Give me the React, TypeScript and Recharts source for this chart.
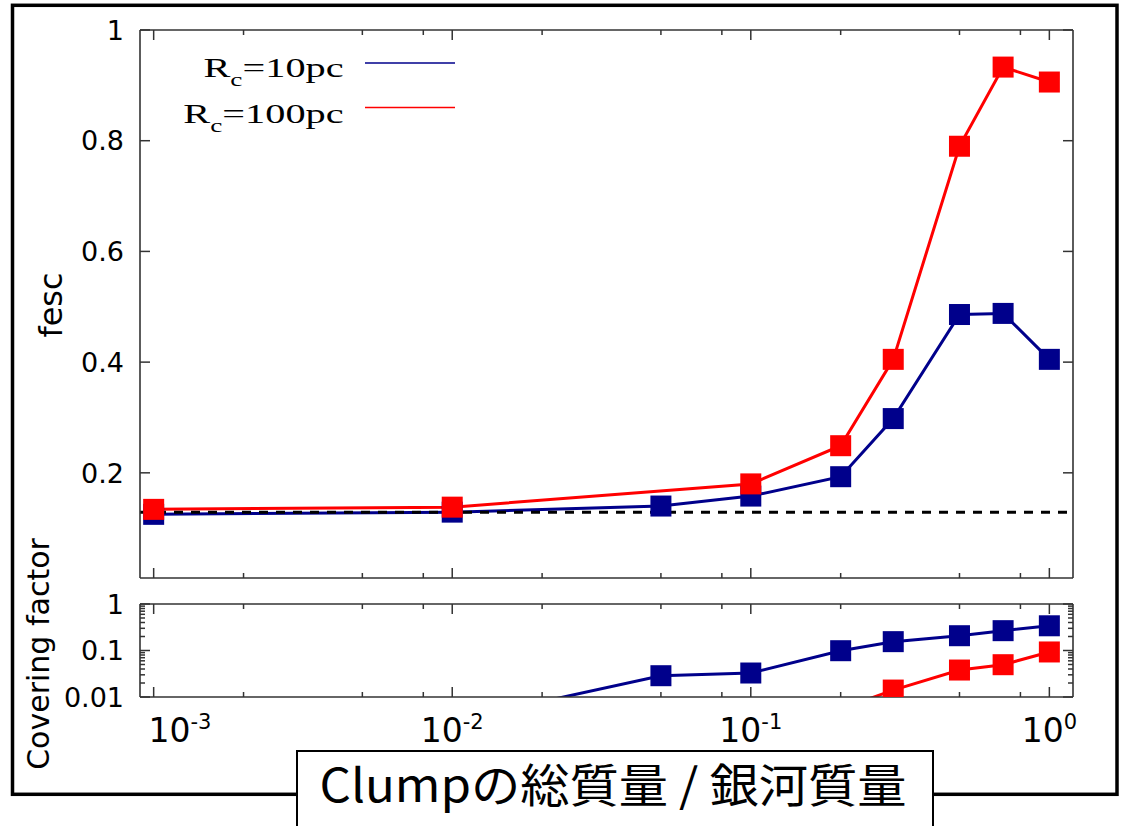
import { Line, LineChart, ReferenceLine, XAxis, YAxis } from 'recharts';

// x: Clumpの総質量 / 銀河質量
const massRatio10 = [0.001, 0.01, 0.05, 0.1, 0.2, 0.3, 0.5, 0.7, 1.0];
const fesc10 = [0.125, 0.129, 0.14, 0.158, 0.193, 0.298, 0.486, 0.488, 0.405];
const massRatio100 = [0.001, 0.01, 0.1, 0.2, 0.3, 0.5, 0.7, 1.0];
const fesc100 = [0.134, 0.138, 0.18, 0.249, 0.405, 0.79, 0.933, 0.906];

const coverMass10 = [0.01, 0.05, 0.1, 0.2, 0.3, 0.5, 0.7, 1.0];
const cover10 = [0.003, 0.0287, 0.0328, 0.099, 0.155, 0.208, 0.267, 0.34];
const coverMass100 = [0.2, 0.3, 0.5, 0.7, 1.0];
const cover100 = [0.0055, 0.0141, 0.038, 0.0495, 0.093];

const fescBase = 0.129;

const xTicks = [0.001, 0.002, 0.005, 0.008, 0.01, 0.02, 0.05, 0.08, 0.1, 0.2, 0.5, 0.8, 1];
const xMajor = [0.001, 0.01, 0.1, 1];
const xExponents = ['-3', '-2', '-1', '0'];

const fescTicks = [0.2, 0.4, 0.6, 0.8, 1];
const fescLabels = ['0.2', '0.4', '0.6', '0.8', '1'];

const coverTicks = [
  0.01, 0.02, 0.03, 0.04, 0.05, 0.06, 0.07, 0.08, 0.09,
  0.1, 0.2, 0.3, 0.4, 0.5, 0.6, 0.7, 0.8, 0.9, 1,
];
const coverMajor = [0.01, 0.1, 1];
const coverLabels = ['0.01', '0.1', '1'];

const seriesNames = ['R', 'R'];
const seriesSubs = ['c', 'c'];
const seriesRest = ['=10pc', '=100pc'];
const colors = ['#00008b', '#ff0000'];

const axisColor = '#333';
const sans = '"DejaVu Sans", Verdana, sans-serif';
const xDomain: [number, number] = [0.0009, 1.2];

const same = (a: number, b: number) => Math.abs(a - b) < 1e-9;

const square = (color: string) => (p: any) => {
  if (p.cx == null || p.cy == null) return <g key={`n-${p.index}`} />;
  return (
    <rect
      key={`sq-${p.index}`}
      x={p.cx - 10.5}
      y={p.cy - 10.5}
      width={21}
      height={21}
      fill={color}
    />
  );
};

const XTick = ({ x, y, payload, side, showLabel }: any) => {
  const idx = xMajor.findIndex(v => same(v, payload.value));
  const len = idx >= 0 ? 10 : 5;
  const dir = side === 'bottom' ? -1 : 1;
  return (
    <g>
      <line x1={x} x2={x} y1={y} y2={y + dir * len} stroke={axisColor} strokeWidth={1.5} />
      {showLabel && idx >= 0 && (
        <text
          x={Math.max(x, 180)}
          y={y + 45}
          textAnchor="middle"
          fontFamily={sans}
          fontSize={33}
          fill="#000"
        >
          10
          <tspan dy={-13} fontSize={21}>{xExponents[idx]}</tspan>
        </text>
      )}
    </g>
  );
};

const YTick = ({ x, y, payload, side, majors, labels }: any) => {
  const idx = majors.findIndex((v: number) => same(v, payload.value));
  const len = idx >= 0 ? 10 : 5;
  const dir = side === 'left' ? 1 : -1;
  return (
    <g>
      <line x1={x} x2={x + dir * len} y1={y} y2={y} stroke={axisColor} strokeWidth={1.5} />
      {side === 'left' && idx >= 0 && (
        <text
          x={x - 16}
          y={y}
          dy="0.36em"
          textAnchor="end"
          fontFamily={sans}
          fontSize={27}
          fill="#000"
        >
          {labels[idx]}
        </text>
      )}
    </g>
  );
};

const axisLine = { stroke: axisColor, strokeWidth: 1.6 };

// axes get 1px of room: recharts skips axes with zero width/height
const xAxisCommon = {
  dataKey: 'm',
  type: 'number' as const,
  scale: 'log' as const,
  domain: xDomain,
  allowDataOverflow: true,
  ticks: xTicks,
  interval: 0,
  height: 1,
  tickSize: 0,
  tickMargin: 0,
  axisLine,
  tickLine: false,
};

const FescChart = () => (
  <LineChart width={1124} height={600} margin={{ top: 29, right: 50, bottom: 21, left: 39 }}>
    <XAxis {...xAxisCommon} tick={(p: any) => <XTick {...p} side="bottom" showLabel={false} />} />
    <XAxis
      {...xAxisCommon}
      xAxisId="top"
      orientation="top"
      tick={(p: any) => <XTick {...p} side="top" showLabel={false} />}
    />
    <YAxis
      type="number"
      domain={[0.01, 1]}
      allowDataOverflow
      ticks={fescTicks}
      interval={0}
      width={101}
      tickSize={0}
      tickMargin={0}
      axisLine={axisLine}
      tickLine={false}
      tick={(p: any) => <YTick {...p} side="left" majors={fescTicks} labels={fescLabels} />}
    />
    <YAxis
      yAxisId="right"
      orientation="right"
      type="number"
      domain={[0.01, 1]}
      allowDataOverflow
      ticks={fescTicks}
      interval={0}
      width={1}
      tickSize={0}
      tickMargin={0}
      axisLine={axisLine}
      tickLine={false}
      tick={(p: any) => <YTick {...p} side="right" majors={fescTicks} labels={fescLabels} />}
    />
    <Line
      data={massRatio10.map((m, i) => ({ m, v: fesc10[i] }))}
      dataKey="v"
      stroke={colors[0]}
      strokeWidth={3}
      dot={square(colors[0])}
      activeDot={false}
      isAnimationActive={false}
    />
    <Line
      data={massRatio100.map((m, i) => ({ m, v: fesc100[i] }))}
      dataKey="v"
      stroke={colors[1]}
      strokeWidth={3}
      dot={square(colors[1])}
      activeDot={false}
      isAnimationActive={false}
    />
    <ReferenceLine y={fescBase} stroke="#000" strokeWidth={3} strokeDasharray="9 8" />
  </LineChart>
);

const CoverChart = () => (
  <LineChart width={1124} height={826} margin={{ top: 603, right: 50, bottom: 128, left: 39 }}>
    <XAxis {...xAxisCommon} tick={(p: any) => <XTick {...p} side="bottom" showLabel />} />
    <XAxis
      {...xAxisCommon}
      xAxisId="top"
      orientation="top"
      tick={(p: any) => <XTick {...p} side="top" showLabel={false} />}
    />
    <YAxis
      type="number"
      scale="log"
      domain={[0.01, 1]}
      allowDataOverflow
      ticks={coverTicks}
      interval={0}
      width={101}
      tickSize={0}
      tickMargin={0}
      axisLine={axisLine}
      tickLine={false}
      tick={(p: any) => <YTick {...p} side="left" majors={coverMajor} labels={coverLabels} />}
    />
    <YAxis
      yAxisId="right"
      orientation="right"
      type="number"
      scale="log"
      domain={[0.01, 1]}
      allowDataOverflow
      ticks={coverTicks}
      interval={0}
      width={1}
      tickSize={0}
      tickMargin={0}
      axisLine={axisLine}
      tickLine={false}
      tick={(p: any) => <YTick {...p} side="right" majors={coverMajor} labels={coverLabels} />}
    />
    <Line
      data={coverMass10.map((m, i) => ({ m, v: cover10[i] }))}
      dataKey="v"
      stroke={colors[0]}
      strokeWidth={3}
      dot={square(colors[0])}
      activeDot={false}
      isAnimationActive={false}
    />
    <Line
      data={coverMass100.map((m, i) => ({ m, v: cover100[i] }))}
      dataKey="v"
      stroke={colors[1]}
      strokeWidth={3}
      dot={square(colors[1])}
      activeDot={false}
      isAnimationActive={false}
    />
  </LineChart>
);

export default function App() {
  return (
    <div
      style={{
        position: 'absolute',
        left: 0,
        top: 0,
        width: 1124,
        height: 826,
        background: '#fff',
        overflow: 'hidden',
      }}
    >
      <div style={{ position: 'absolute', left: 0, top: 0 }}>
        <FescChart />
      </div>
      <div style={{ position: 'absolute', left: 0, top: 0 }}>
        <CoverChart />
      </div>
      <svg
        width={1124}
        height={826}
        style={{ position: 'absolute', left: 0, top: 0, pointerEvents: 'none' }}
      >
        <rect x={12.5} y={5.3} width={1104.5} height={789} fill="none" stroke="#000" strokeWidth={3.5} />
        <text
          transform="translate(62,305) rotate(-90)"
          textAnchor="middle"
          fontFamily={sans}
          fontSize={32}
        >
          fesc
        </text>
        <text
          transform="translate(49,654) rotate(-90)"
          textAnchor="middle"
          fontFamily={sans}
          fontSize={30}
        >
          Covering factor
        </text>
        {seriesNames.map((n, i) => (
          <g key={n + i}>
            <text
              transform={`translate(343.6,${77.3 + i * 45.5}) scale(1.44,1)`}
              textAnchor="end"
              fontFamily='"Liberation Serif", "Times New Roman", serif'
              fontSize={28}
            >
              {n}
              <tspan dy={9} fontSize={19}>{seriesSubs[i]}</tspan>
              <tspan dy={-9} fontSize={28}>{seriesRest[i]}</tspan>
            </text>
            <line
              x1={365}
              x2={455}
              y1={63 + i * 44.5}
              y2={63 + i * 44.5}
              stroke={colors[i]}
              strokeWidth={1.5}
            />
          </g>
        ))}
        <rect x={297} y={751} width={636} height={100} fill="#fff" stroke="#000" strokeWidth={2} />
        <text
          x={613}
          y={802}
          textAnchor="middle"
          fontFamily='"Noto Sans CJK JP", sans-serif'
          fontSize={46}
          textLength={587}
          lengthAdjust="spacingAndGlyphs"
        >
          Clumpの総質量 / 銀河質量
        </text>
      </svg>
    </div>
  );
}
